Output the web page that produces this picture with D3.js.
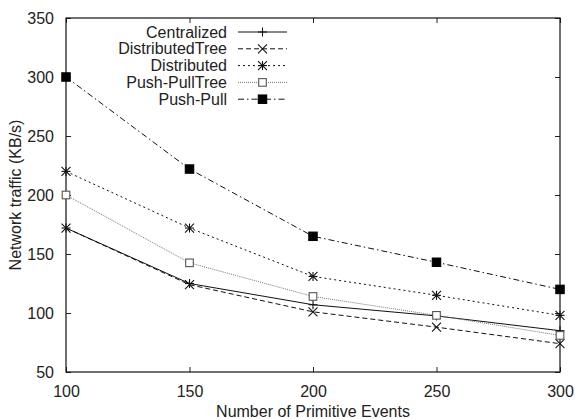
<!DOCTYPE html>
<html>
<head>
<meta charset="utf-8">
<script src="https://cdn.jsdelivr.net/npm/d3@7/dist/d3.min.js"></script>
<style>
  html, body { margin: 0; padding: 0; background: #fff; }
  svg { display: block; }
  text { font-family: "Liberation Sans", Arial, Helvetica, sans-serif; fill: #222; }
</style>
</head>
<body>
<svg id="chart" width="575" height="419"></svg>
<script>
// Number of primitive events on the x axis
const events = [100, 150, 200, 250, 300];

// Network traffic (KB/s) for each scheme
const centralized     = [172, 125, 107, 97.5, 85];
const distributedTree = [172, 124, 101, 88, 74];
const distributed     = [220, 172, 131, 115, 98];
const pushPullTree    = [200, 142.5, 114, 98, 81];
const pushPull        = [300, 222, 165, 143, 120];

const seriesNames = ["Centralized", "DistributedTree", "Distributed", "Push-PullTree", "Push-Pull"];

const xTicks = [100, 150, 200, 250, 300];
const yTicks = [50, 100, 150, 200, 250, 300, 350];

const xLabel = "Number of Primitive Events";
const yLabel = "Network traffic (KB/s)";

// Drawing styles per series (gnuplot-like line types)
const styles = [
  { dash: null,        stroke: "#111", marker: "plus" },
  { dash: "5,3",       stroke: "#111", marker: "cross" },
  { dash: "2,3",       stroke: "#111", marker: "star" },
  { dash: "1,1",       stroke: "#777", marker: "box" },
  { dash: "6,3,1.5,3", stroke: "#111", marker: "fbox" }
];

const series = [centralized, distributedTree, distributed, pushPullTree, pushPull]
  .map((vals, i) => ({ name: seriesNames[i], values: vals, style: styles[i] }));

const W = 575, H = 419;
const margin = { left: 66, right: 15, top: 18, bottom: 47 };
const innerW = W - margin.left - margin.right;
const innerH = H - margin.top - margin.bottom;

const svg = d3.select("#chart");
const g = svg.append("g").attr("transform", `translate(${margin.left},${margin.top})`);

const x = d3.scaleLinear().domain([100, 300]).range([0, innerW]);
const y = d3.scaleLinear().domain([50, 350]).range([innerH, 0]);

// Axes with inward ticks, mirrored on top and right
const tickLen = 5;
const axisStyle = sel => {
  sel.select(".domain").remove();
  sel.selectAll(".tick line").attr("stroke", "#222").attr("stroke-width", 1);
  sel.selectAll(".tick text").style("font-size", "16px");
};

g.append("g").attr("transform", `translate(0,${innerH})`)
  .call(d3.axisBottom(x).tickValues(xTicks).tickSizeInner(-tickLen).tickSizeOuter(0).tickPadding(14))
  .call(axisStyle)
  .selectAll("text").attr("fill", "#222");

g.append("g")
  .call(d3.axisLeft(y).tickValues(yTicks).tickSizeInner(-tickLen).tickSizeOuter(0).tickPadding(12))
  .call(axisStyle)
  .selectAll("text").attr("fill", "#222");

g.append("g")
  .call(d3.axisTop(x).tickValues(xTicks).tickSizeInner(-tickLen).tickSizeOuter(0).tickFormat(""))
  .call(axisStyle);

g.append("g").attr("transform", `translate(${innerW},0)`)
  .call(d3.axisRight(y).tickValues(yTicks).tickSizeInner(-tickLen).tickSizeOuter(0).tickFormat(""))
  .call(axisStyle);

// Plot frame
g.append("rect")
  .attr("x", 0).attr("y", 0).attr("width", innerW).attr("height", innerH)
  .attr("fill", "none").attr("stroke", "#111").attr("stroke-width", 1.2);

// Axis titles
svg.append("text")
  .attr("x", margin.left + innerW / 2).attr("y", 417)
  .attr("text-anchor", "middle").style("font-size", "16px")
  .text(xLabel);

svg.append("text")
  .attr("transform", `translate(21,${margin.top + innerH / 2}) rotate(-90)`)
  .attr("text-anchor", "middle").style("font-size", "16px")
  .text(yLabel);

// Point markers
function drawMarker(sel, type, cx, cy, color) {
  const s = 4.5;
  const m = sel.append("g").attr("transform", `translate(${cx},${cy})`)
    .attr("stroke", color).attr("stroke-width", 1.1).attr("fill", "none");
  if (type === "plus" || type === "star") {
    m.append("line").attr("x1", -s).attr("x2", s).attr("y1", 0).attr("y2", 0);
    m.append("line").attr("x1", 0).attr("x2", 0).attr("y1", -s).attr("y2", s);
  }
  if (type === "cross" || type === "star") {
    m.append("line").attr("x1", -s).attr("x2", s).attr("y1", -s).attr("y2", s);
    m.append("line").attr("x1", -s).attr("x2", s).attr("y1", s).attr("y2", -s);
  }
  if (type === "box") {
    m.append("rect").attr("x", -3.8).attr("y", -3.8).attr("width", 7.6).attr("height", 7.6)
      .attr("fill", "#fff").attr("stroke", "#555");
  }
  if (type === "fbox") {
    m.append("rect").attr("x", -4.2).attr("y", -4.2).attr("width", 8.4).attr("height", 8.4)
      .attr("fill", "#000").attr("stroke", "#000");
  }
}

const line = d3.line().x(d => x(d[0])).y(d => y(d[1]));

series.forEach(s => {
  const pts = events.map((e, i) => [e, s.values[i]]);
  g.append("path")
    .datum(pts)
    .attr("d", line)
    .attr("fill", "none")
    .attr("stroke", s.style.stroke)
    .attr("stroke-width", 1)
    .attr("stroke-dasharray", s.style.dash);
  pts.forEach(p => drawMarker(g, s.style.marker, x(p[0]), y(p[1]), s.style.stroke === "#777" ? "#555" : "#111"));
});

// Legend (text right-aligned, sample line with marker)
const legend = svg.append("g");
const legTextX = 227, legX1 = 238, legX2 = 287, legY0 = 32, legStep = 16.8;
series.forEach((s, i) => {
  const ly = legY0 + i * legStep;
  legend.append("text")
    .attr("x", legTextX).attr("y", ly + 5.5)
    .attr("text-anchor", "end").style("font-size", "16px")
    .text(s.name);
  legend.append("line")
    .attr("x1", legX1).attr("x2", legX2).attr("y1", ly).attr("y2", ly)
    .attr("stroke", s.style.stroke).attr("stroke-width", 1)
    .attr("stroke-dasharray", s.style.dash);
  drawMarker(legend, s.style.marker, (legX1 + legX2) / 2, ly, s.style.stroke === "#777" ? "#555" : "#111");
});
</script>
</body>
</html>
